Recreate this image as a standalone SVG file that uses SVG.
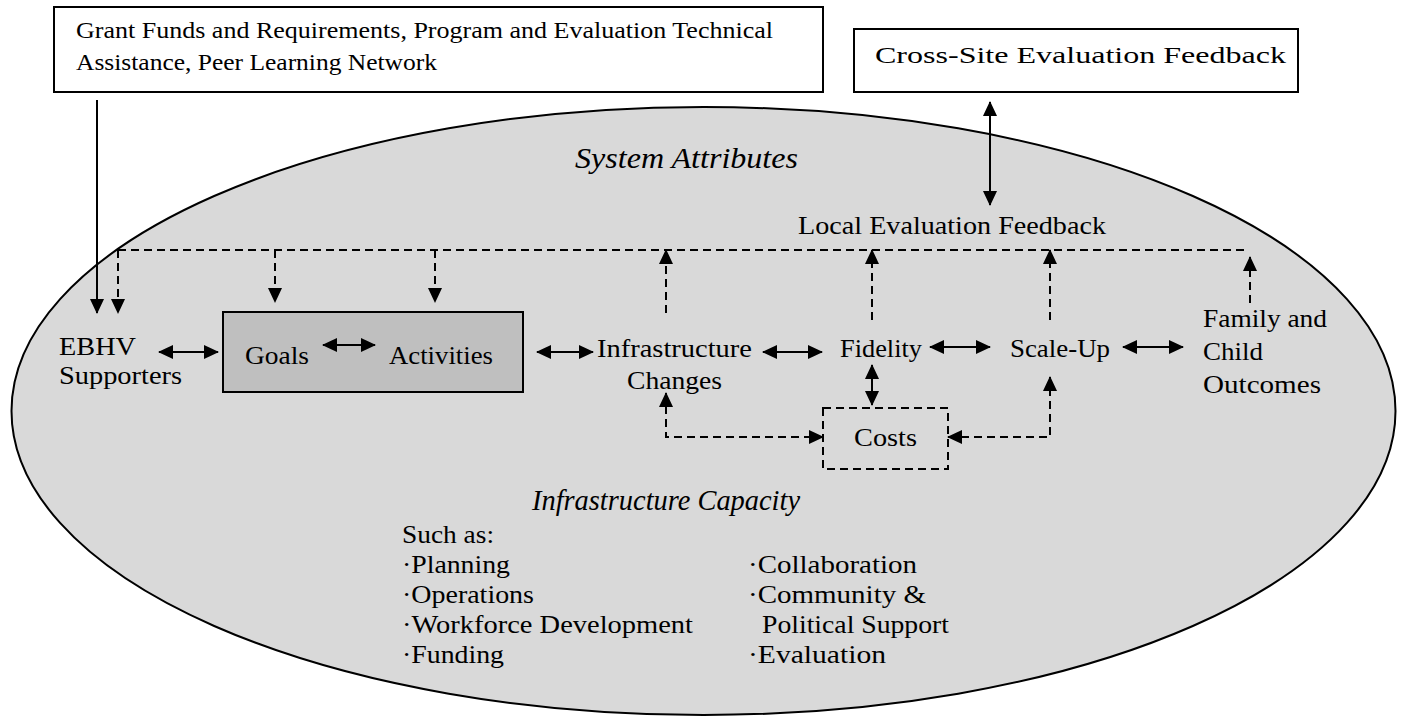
<svg xmlns="http://www.w3.org/2000/svg" width="1403" height="717" viewBox="0 0 1403 717">
<defs>
<marker id="ah" viewBox="0 0 15 14" refX="14" refY="7" markerWidth="15" markerHeight="14" markerUnits="userSpaceOnUse" orient="auto-start-reverse"><path d="M0,0 L15,7 L0,14 Z" fill="#000"/></marker>
</defs>
<style>
.t{font-family:"Liberation Serif","Times New Roman",serif;font-size:25px;fill:#000}
.s{font-size:24px}
.it{font-family:"Liberation Serif","Times New Roman",serif;font-style:italic;font-size:30px;fill:#000}
.box{fill:#fff;stroke:#000;stroke-width:2}
.ln{stroke:#000;stroke-width:2;fill:none}
.ds{stroke:#000;stroke-width:2;fill:none;stroke-dasharray:8 5}
.a1{marker-end:url(#ah)}
.a2{marker-start:url(#ah);marker-end:url(#ah)}
</style>
<rect width="1403" height="717" fill="#fff"/>
<g id="system">
<ellipse cx="703.5" cy="411" rx="692" ry="304" fill="#d9d9d9" stroke="#000" stroke-width="2"/>
<text class="it" x="575" y="168" textLength="223" lengthAdjust="spacingAndGlyphs">System Attributes</text>
</g>
<g id="grant">
<rect class="box" x="54" y="7" width="769" height="85"/>
<text class="t s" x="76" y="38" textLength="697" lengthAdjust="spacingAndGlyphs">Grant Funds and Requirements, Program and Evaluation Technical</text>
<text class="t s" x="76" y="70" textLength="361" lengthAdjust="spacingAndGlyphs">Assistance, Peer Learning Network</text>
</g>
<g id="crosssite">
<rect class="box" x="854" y="29" width="444" height="63"/>
<text class="t s" x="875" y="63" textLength="411" lengthAdjust="spacingAndGlyphs">Cross-Site Evaluation Feedback</text>
</g>
<g id="local">
<text class="t" x="798" y="234" textLength="308" lengthAdjust="spacingAndGlyphs">Local Evaluation Feedback</text>
</g>
<g id="ebhv">
<text class="t" x="59" y="355" textLength="77" lengthAdjust="spacingAndGlyphs">EBHV</text>
<text class="t" x="59" y="384" textLength="123" lengthAdjust="spacingAndGlyphs">Supporters</text>
</g>
<g id="goals-activities">
<rect x="223" y="312" width="300" height="80" fill="#bfbfbf" stroke="#000" stroke-width="2"/>
<text class="t" x="245" y="364" textLength="64" lengthAdjust="spacingAndGlyphs">Goals</text>
<text class="t" x="389" y="364" textLength="104" lengthAdjust="spacingAndGlyphs">Activities</text>
</g>
<g id="infrastructure">
<text class="t" x="597" y="357" textLength="155" lengthAdjust="spacingAndGlyphs">Infrastructure</text>
<text class="t" x="627" y="389" textLength="95" lengthAdjust="spacingAndGlyphs">Changes</text>
</g>
<g id="fidelity">
<text class="t" x="840" y="357" textLength="82" lengthAdjust="spacingAndGlyphs">Fidelity</text>
</g>
<g id="scaleup">
<text class="t" x="1010" y="357" textLength="100" lengthAdjust="spacingAndGlyphs">Scale-Up</text>
</g>
<g id="outcomes">
<text class="t" x="1203" y="327" textLength="124" lengthAdjust="spacingAndGlyphs">Family and</text>
<text class="t" x="1203" y="360" textLength="60" lengthAdjust="spacingAndGlyphs">Child</text>
<text class="t" x="1203" y="393" textLength="118" lengthAdjust="spacingAndGlyphs">Outcomes</text>
</g>
<g id="costs">
<rect class="ds" x="823" y="408" width="125" height="61"/>
<text class="t" x="854" y="446" textLength="63" lengthAdjust="spacingAndGlyphs">Costs</text>
</g>
<g id="capacity">
<text class="it" x="532" y="510" textLength="268" lengthAdjust="spacingAndGlyphs">Infrastructure Capacity</text>
<text class="t" x="402" y="543" textLength="92" lengthAdjust="spacingAndGlyphs">Such as:</text>
<text class="t" x="402" y="573" textLength="108" lengthAdjust="spacingAndGlyphs">·Planning</text>
<text class="t" x="402" y="603" textLength="132" lengthAdjust="spacingAndGlyphs">·Operations</text>
<text class="t" x="402" y="633" textLength="291" lengthAdjust="spacingAndGlyphs">·Workforce Development</text>
<text class="t" x="402" y="663" textLength="102" lengthAdjust="spacingAndGlyphs">·Funding</text>
<text class="t" x="748" y="573" textLength="169" lengthAdjust="spacingAndGlyphs">·Collaboration</text>
<text class="t" x="748" y="603" textLength="178" lengthAdjust="spacingAndGlyphs">·Community &amp;</text>
<text class="t" x="762" y="633" textLength="187" lengthAdjust="spacingAndGlyphs">Political Support</text>
<text class="t" x="748" y="663" textLength="138" lengthAdjust="spacingAndGlyphs">·Evaluation</text>
</g>
<g id="connectors">
<path class="ln a1" d="M97,100 V313"/>
<path class="ln a2" d="M990,102 V205"/>
<path class="ds" d="M118,250 H1247"/>
<path class="ds a1" d="M118,250 V313"/>
<path class="ds a1" d="M275,250 V302"/>
<path class="ds a1" d="M435,250 V302"/>
<path class="ds a1" d="M666,313 V250"/>
<path class="ds a1" d="M872,320 V250"/>
<path class="ds a1" d="M1050,320 V250"/>
<path class="ds a1" d="M1250,303 V257"/>
<path class="ln a2" d="M159,352 H218"/>
<path class="ln a2" d="M323,345 H375"/>
<path class="ln a2" d="M537,352 H593"/>
<path class="ln a2" d="M763,352 H822"/>
<path class="ln a2" d="M930,347 H990"/>
<path class="ln a2" d="M1123,347 H1183"/>
<path class="ln a2" d="M872,365 V405"/>
<path class="ds a2" d="M666,393 V437 H823"/>
<path class="ds a2" d="M948,437 H1050 V377"/>
</g>
</svg>
